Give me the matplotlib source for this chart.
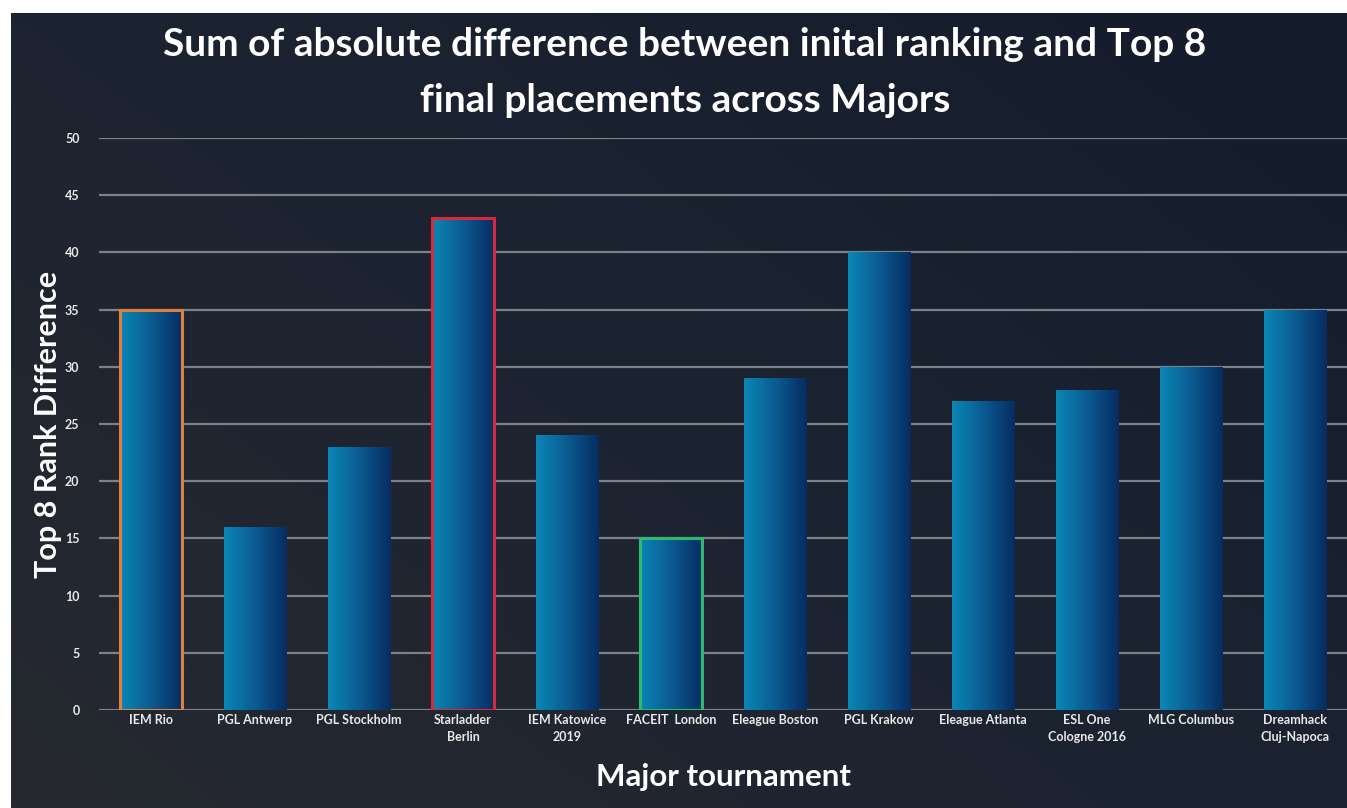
import matplotlib
matplotlib.use('Agg')
import matplotlib.pyplot as plt
import numpy as np
from matplotlib.colors import LinearSegmentedColormap

# data
majors = ['IEM Rio', 'PGL Antwerp', 'PGL Stockholm', 'Starladder\nBerlin',
          'IEM Katowice\n2019', 'FACEIT  London', 'Eleague Boston', 'PGL Krakow',
          'Eleague Atlanta', 'ESL One\nCologne 2016', 'MLG Columbus', 'Dreamhack\nCluj-Napoca']
rank_diff = [35, 16, 23, 43, 24, 15, 29, 40, 27, 28, 30, 35]
outlines = {0: '#e0803f', 3: '#d62a3c', 5: '#2dba6c'}

plt.rcParams['font.family'] = ['Lato', 'DejaVu Sans']

fig = plt.figure(figsize=(13.47, 8.08), dpi=100, facecolor='white')

# dark background panel
bg = fig.add_axes([11 / 1347, 0, 1 - 11 / 1347, 1 - 13 / 808])
bg.axis('off')
yy, xx = np.mgrid[0:1:200j, 0:1:300j]
shade = 0.55 * xx + 0.45 * (1 - yy)
bg_cmap = LinearSegmentedColormap.from_list('bg', ['#26292f', '#1c2331', '#141c2c'])
bg.imshow(shade, cmap=bg_cmap, aspect='auto', extent=[0, 1, 0, 1], origin='upper')

ax = fig.add_axes([99 / 1347, 98 / 808, 1248 / 1347, 572 / 808])
ax.patch.set_alpha(0)

x = np.arange(len(majors))

for y in range(0, 51, 5):
    ax.axhline(y, color='#7d8088', lw=1.6, zorder=1)

bar_cmap = LinearSegmentedColormap.from_list('bar', ['#0b86b6', '#0a5b90', '#062d62'])
grad = np.linspace(0, 1, 100).reshape(1, -1)
bars = ax.bar(x, rank_diff, width=0.6, color='none', zorder=2)
for i, b in enumerate(bars):
    x0, w, h = b.get_x(), b.get_width(), b.get_height()
    im = ax.imshow(grad, cmap=bar_cmap, aspect='auto', extent=[x0, x0 + w, 0, h], zorder=2)
    im.set_clip_path(b)
    if i in outlines:
        ax.bar(x[i], rank_diff[i], width=0.6, color='none', edgecolor=outlines[i],
               linewidth=2.2, zorder=3)

ax.set_xlim(-0.5, len(majors) - 0.5)
ax.set_ylim(0, 50)
ax.set_yticks(range(0, 51, 5))
ax.set_xticks(x)
ax.set_xticklabels(majors, fontsize=9, fontweight='bold', color='#e8e8e8', linespacing=1.5)
ax.tick_params(axis='y', labelsize=9, labelcolor='#e8e8e8', length=0, pad=14)
ax.tick_params(axis='x', length=0, pad=3)
for lab in ax.get_yticklabels():
    lab.set_fontweight('bold')
for s in ax.spines.values():
    s.set_visible(False)

ax.set_ylabel('Top 8 Rank Difference', fontsize=22, fontweight='bold', color='white', labelpad=2)
ax.set_xlabel('Major tournament', fontsize=22.5, fontweight='bold', color='white', labelpad=14)
fig.text(685 / 1347, 1 - 45 / 808, 'Sum of absolute difference between inital ranking and Top 8',
         ha='center', va='center', fontsize=28, fontweight='bold', color='white')
fig.text(685 / 1347, 1 - 100 / 808, 'final placements across Majors',
         ha='center', va='center', fontsize=28, fontweight='bold', color='white')

fig.savefig('out.png', dpi=100, facecolor='white')
